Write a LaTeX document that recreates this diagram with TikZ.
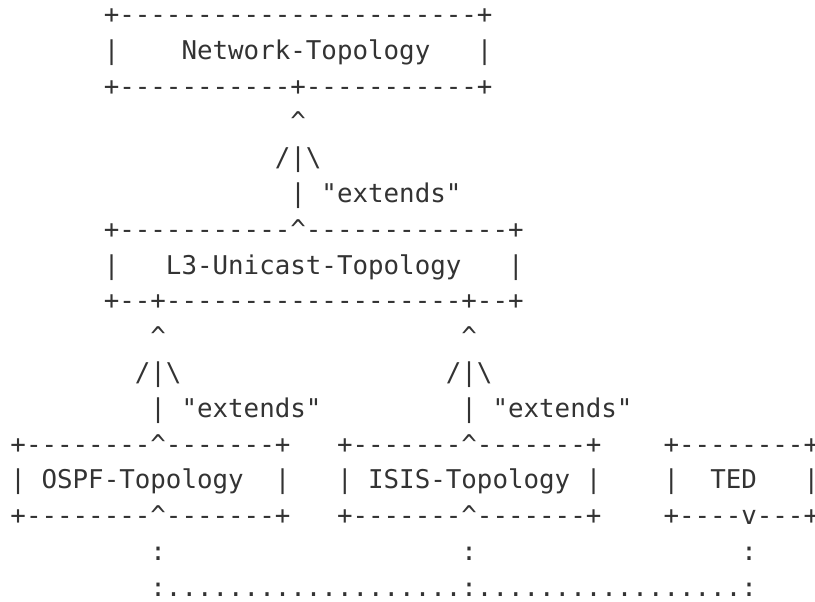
\documentclass[tikz,border=0pt]{standalone}
\usepackage{fontspec}
\setmonofont{DejaVu Sans Mono}
\usepackage{xcolor}
\usetikzlibrary{positioning}
\definecolor{ink}{HTML}{333333}
\newcommand{\asciifont}{\ttfamily\fontsize{25.83pt}{30pt}\selectfont}
\newcommand{\caret}{\textasciicircum}
\newcommand{\bksl}{\textbackslash}
\tikzset{ascii/.style={anchor=base west, inner sep=0pt, outer sep=0pt, text=ink, font=\asciifont}}

\begin{document}
\begin{tikzpicture}[x=15.55pt, y=-35.8pt, every node/.style={ascii}]
\useasboundingbox (-0.675,-0.656) rectangle (51.737,16.132);

% Network-Topology box
\node (nt-top)   at (6,0) {+-----------------------+};
\node (nt-left)  at (6,1) {|};
\node (nt-label) at (11,1) {Network-Topology};
\node (nt-right) at (30,1) {|};
\node (nt-bot)   at (6,2) {+-----------+-----------+};

% extends arrow to the top box
\node (a1-tip)  at (18,3) {\caret};
\node (a1-head) at (17,4) {/|\bksl};
\node (a1-shaft) at (18,5) {|};
\node (a1-text) at (20,5) {"extends"};

% L3-Unicast-Topology box
\node (l3-top)   at (6,6) {+-----------\caret{}-------------+};
\node (l3-left)  at (6,7) {|};
\node (l3-label) at (10,7) {L3-Unicast-Topology};
\node (l3-right) at (32,7) {|};
\node (l3-bot)   at (6,8) {+--+-------------------+--+};

% extends arrows to the L3 box
\node (a2-tip)   at (9,9) {\caret};
\node (a3-tip)   at (29,9) {\caret};
\node (a2-head)  at (8,10) {/|\bksl};
\node (a3-head)  at (28,10) {/|\bksl};
\node (a2-shaft) at (9,11) {|};
\node (a2-text)  at (11,11) {"extends"};
\node (a3-shaft) at (29,11) {|};
\node (a3-text)  at (31,11) {"extends"};

% OSPF, ISIS and TED boxes
\node (ospf-top) at (0,12) {+--------\caret{}-------+};
\node (isis-top) at (21,12) {+-------\caret{}-------+};
\node (ted-top)  at (42,12) {+--------+};
\node (ospf-left)  at (0,13) {|};
\node (ospf-label) at (2,13) {OSPF-Topology};
\node (ospf-right) at (17,13) {|};
\node (isis-left)  at (21,13) {|};
\node (isis-label) at (23,13) {ISIS-Topology};
\node (isis-right) at (37,13) {|};
\node (ted-left)   at (42,13) {|};
\node (ted-label)  at (45,13) {TED};
\node (ted-right)  at (51,13) {|};
\node (ospf-bot) at (0,14) {+--------\caret{}-------+};
\node (isis-bot) at (21,14) {+-------\caret{}-------+};
\node (ted-bot)  at (42,14) {+----v---+};

% dotted link from TED
\node (d-ospf) at (9,15) {:};
\node (d-isis) at (29,15) {:};
\node (d-ted)  at (47,15) {:};
\node (d-line) at (9,16) {:...................:.................:};
\end{tikzpicture}
\end{document}
